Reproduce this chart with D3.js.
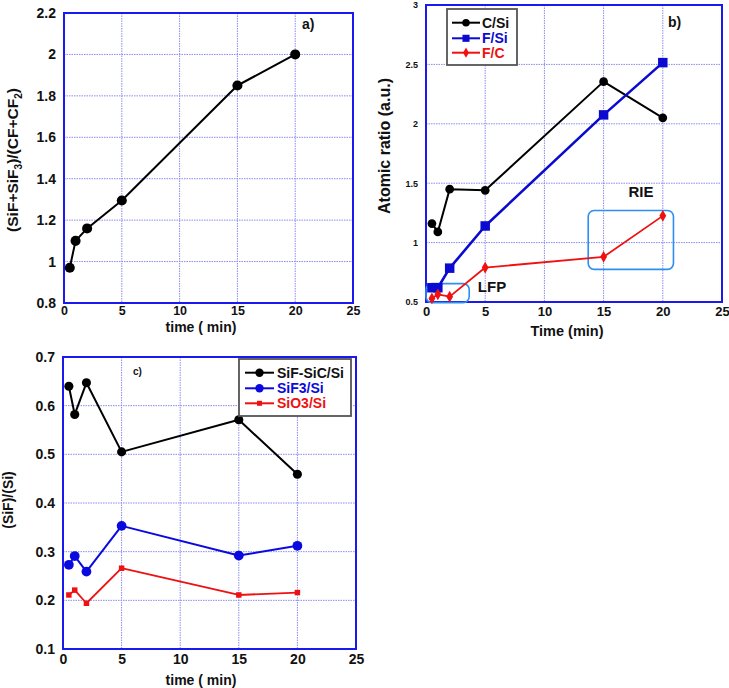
<!DOCTYPE html>
<html>
<head>
<meta charset="utf-8">
<script src="https://cdn.jsdelivr.net/npm/d3@7/dist/d3.min.js"></script>
<style>
  html, body { margin: 0; padding: 0; background: #fff; }
  svg { display: block; font-family: "Liberation Sans", Arial, sans-serif; font-weight: bold; }
</style>
</head>
<body>
<svg id="chart" width="729" height="688"></svg>
<script>
// ---------------- data ----------------
const time = [0.5, 1, 2, 5, 15, 20];
const xTicks = [0, 5, 10, 15, 20, 25];

// panel a
const ratioA = [0.97, 1.10, 1.16, 1.295, 1.85, 2.0];
const yTicksA = [0.8, 1.0, 1.2, 1.4, 1.6, 1.8, 2.0, 2.2];

// panel b
const cSi = [1.16, 1.09, 1.45, 1.44, 2.355, 2.05];
const fSi = [0.62, 0.62, 0.785, 1.14, 2.075, 2.515];
const fC  = [0.53, 0.565, 0.545, 0.79, 0.88, 1.225];
const yTicksB = [0.5, 1.0, 1.5, 2.0, 2.5, 3.0];
const seriesNamesB = ["C/Si", "F/Si", "F/C"];

// panel c
const sifSic = [0.64, 0.582, 0.647, 0.505, 0.571, 0.459];
const sif3   = [0.273, 0.291, 0.259, 0.353, 0.292, 0.312];
const sio3   = [0.211, 0.221, 0.194, 0.266, 0.211, 0.216];
const yTicksC = [0.1, 0.2, 0.3, 0.4, 0.5, 0.6, 0.7];
const seriesNamesC = ["SiF-SiC/Si", "SiF3/Si", "SiO3/Si"];

// annotation regions (data units) in panel b
const lfpBox = {x0: 0.0, x1: 3.65, y0: 0.495, y1: 0.655};
const rieBox = {x0: 13.7, x1: 20.9, y0: 0.775, y1: 1.27};

// ---------------- drawing ----------------
const svg = d3.select("#chart");
const frameColor = "#1a1aee";
const gridColor = "#8a8af0";
const fmt = d => String(+d.toFixed(1));
const FONT = '"Liberation Sans", Arial, sans-serif';

function panel(cfg) {
  const x = d3.scaleLinear().domain([0, 25]).range([cfg.left, cfg.right]);
  const y = d3.scaleLinear().domain(cfg.yDomain).range([cfg.bottom, cfg.top]);
  const g = svg.append("g");

  // grid
  g.append("g").selectAll("line").data(xTicks.slice(1, -1)).join("line")
    .attr("x1", d => x(d)).attr("x2", d => x(d))
    .attr("y1", cfg.top).attr("y2", cfg.bottom)
    .attr("stroke", gridColor).attr("stroke-width", 1).attr("stroke-dasharray", "1.5,1");
  g.append("g").selectAll("line").data(cfg.yTicks.slice(1, -1)).join("line")
    .attr("y1", d => y(d)).attr("y2", d => y(d))
    .attr("x1", cfg.left).attr("x2", cfg.right)
    .attr("stroke", gridColor).attr("stroke-width", 1).attr("stroke-dasharray", "1.5,1");

  // axes (labels only)
  const xa = g.append("g").attr("transform", `translate(0,${cfg.bottom})`)
    .call(d3.axisBottom(x).tickValues(xTicks).tickSize(0).tickPadding(cfg.xPad).tickFormat(d3.format("d")));
  xa.select(".domain").remove();
  xa.selectAll("text").attr("font-size", cfg.xFont).attr("font-weight", "bold")
    .attr("font-family", FONT).attr("fill", "#111");

  const ya = g.append("g").attr("transform", `translate(${cfg.left},0)`)
    .call(d3.axisLeft(y).tickValues(cfg.yTicks).tickSize(0).tickPadding(8).tickFormat(fmt));
  ya.select(".domain").remove();
  ya.selectAll("text").attr("font-size", cfg.yFont).attr("font-weight", "bold")
    .attr("font-family", FONT).attr("fill", "#111");

  // frame
  g.append("rect").attr("x", cfg.left).attr("y", cfg.top)
    .attr("width", cfg.right - cfg.left).attr("height", cfg.bottom - cfg.top)
    .attr("fill", "none").attr("stroke", frameColor).attr("stroke-width", 2);

  return {x, y, g};
}

function drawSeries(p, vals, color, width, marker, size) {
  const line = d3.line().x((d, i) => p.x(time[i])).y(d => p.y(d));
  p.g.append("path").datum(vals).attr("d", line)
    .attr("fill", "none").attr("stroke", color).attr("stroke-width", width)
    .attr("stroke-linejoin", "round");
  const sym = d3.symbol().type(marker).size(size);
  p.g.append("g").selectAll("path").data(vals).join("path")
    .attr("transform", (d, i) => `translate(${p.x(time[i])},${p.y(d)})`)
    .attr("d", sym).attr("fill", color);
}

function legend(items, box, lineX0, lineX1, textX, rows) {
  svg.append("rect").attr("x", box.x).attr("y", box.y).attr("width", box.w).attr("height", box.h)
    .attr("fill", "#fff").attr("stroke", "#555").attr("stroke-width", 1.8);
  items.forEach((it, i) => {
    const yy = rows[i];
    svg.append("line").attr("x1", lineX0).attr("x2", lineX1).attr("y1", yy).attr("y2", yy)
      .attr("stroke", it.color).attr("stroke-width", 2);
    svg.append("path").attr("transform", `translate(${(lineX0 + lineX1) / 2},${yy})`)
      .attr("d", d3.symbol().type(it.marker).size(it.size)()).attr("fill", it.color);
    svg.append("text").attr("x", textX).attr("y", yy).attr("dy", "0.36em")
      .attr("font-size", 14).attr("fill", it.color === "#000" ? "#111" : it.color).text(it.name);
  });
}

// ---------- panel a ----------
const pa = panel({left: 64, right: 353, top: 13, bottom: 303, yDomain: [0.8, 2.2], yTicks: yTicksA,
  xFont: 12.5, yFont: 14, xPad: 3});
drawSeries(pa, ratioA, "#000", 2, d3.symbolCircle, 80);
svg.append("text").attr("x", 302).attr("y", 29).attr("font-size", 14).attr("fill", "#111").text("a)");
svg.append("text").attr("x", 201).attr("y", 332).attr("text-anchor", "middle").attr("font-size", 14)
  .attr("fill", "#111").text("time ( min)");
{
  const t = svg.append("text").attr("transform", "translate(18,160) rotate(-90)")
    .attr("text-anchor", "middle").attr("font-size", 15.5).attr("fill", "#111");
  t.append("tspan").text("(SiF+SiF");
  t.append("tspan").attr("font-size", 10).attr("dy", 4).text("3");
  t.append("tspan").attr("dy", -4).text(")/(CF+CF");
  t.append("tspan").attr("font-size", 10).attr("dy", 4).text("2");
  t.append("tspan").attr("dy", -4).text(")");
}

// ---------- panel b ----------
const pb = panel({left: 426, right: 722, top: 5, bottom: 302, yDomain: [0.5, 3], yTicks: yTicksB,
  xFont: 13, yFont: 9, xPad: 5});
// annotation boxes
[lfpBox, rieBox].forEach(b => {
  pb.g.append("rect").attr("x", pb.x(b.x0)).attr("y", pb.y(b.y1))
    .attr("width", pb.x(b.x1) - pb.x(b.x0)).attr("height", pb.y(b.y0) - pb.y(b.y1))
    .attr("rx", 6).attr("fill", "none").attr("stroke", "#2e8ff0").attr("stroke-width", 1.6);
});
drawSeries(pb, cSi, "#000", 2, d3.symbolCircle, 60);
drawSeries(pb, fSi, "#0a0ad0", 2.6, d3.symbolSquare, 90);
drawSeries(pb, fC, "#f01010", 1.8, d3.symbolDiamond, 40);
svg.append("text").attr("x", 641).attr("y", 197).attr("text-anchor", "middle").attr("font-size", 15)
  .attr("fill", "#111").text("RIE");
svg.append("text").attr("x", 492).attr("y", 292).attr("text-anchor", "middle").attr("font-size", 15)
  .attr("fill", "#111").text("LFP");
svg.append("text").attr("x", 668).attr("y", 27).attr("font-size", 14).attr("fill", "#111").text("b)");
svg.append("text").attr("x", 567).attr("y", 336).attr("text-anchor", "middle").attr("font-size", 14.5)
  .attr("fill", "#111").text("Time (min)");
svg.append("text").attr("transform", "translate(390,146) rotate(-90)").attr("text-anchor", "middle")
  .attr("font-size", 16).attr("fill", "#111").text("Atomic ratio (a.u.)");
legend([
  {name: seriesNamesB[0], color: "#000", marker: d3.symbolCircle, size: 45},
  {name: seriesNamesB[1], color: "#0a0ad0", marker: d3.symbolSquare, size: 50},
  {name: seriesNamesB[2], color: "#f01010", marker: d3.symbolDiamond, size: 30}
], {x: 447, y: 9, w: 70, h: 56}, 452, 480, 482, [22.7, 38.3, 52.7]);

// ---------- panel c ----------
const pc = panel({left: 63, right: 356, top: 357, bottom: 649, yDomain: [0.1, 0.7], yTicks: yTicksC,
  xFont: 14, yFont: 14, xPad: 5});
drawSeries(pc, sifSic, "#000", 2, d3.symbolCircle, 65);
drawSeries(pc, sif3, "#0a0ae0", 2, d3.symbolCircle, 75);
drawSeries(pc, sio3, "#ee1111", 1.8, d3.symbolSquare, 30);
svg.append("text").attr("x", 133).attr("y", 375).attr("font-size", 10).attr("fill", "#111").text("c)");
svg.append("text").attr("x", 201).attr("y", 685).attr("text-anchor", "middle").attr("font-size", 14)
  .attr("fill", "#111").text("time ( min)");
svg.append("text").attr("transform", "translate(13,500) rotate(-90)").attr("text-anchor", "middle")
  .attr("font-size", 14).attr("fill", "#111").text("(SiF)/(Si)");
legend([
  {name: seriesNamesC[0], color: "#000", marker: d3.symbolCircle, size: 55},
  {name: seriesNamesC[1], color: "#0a0ae0", marker: d3.symbolCircle, size: 55},
  {name: seriesNamesC[2], color: "#ee1111", marker: d3.symbolSquare, size: 25}
], {x: 239, y: 359, w: 112, h: 57}, 245, 274, 277, [372.7, 388.3, 403.3]);
</script>
</body>
</html>
